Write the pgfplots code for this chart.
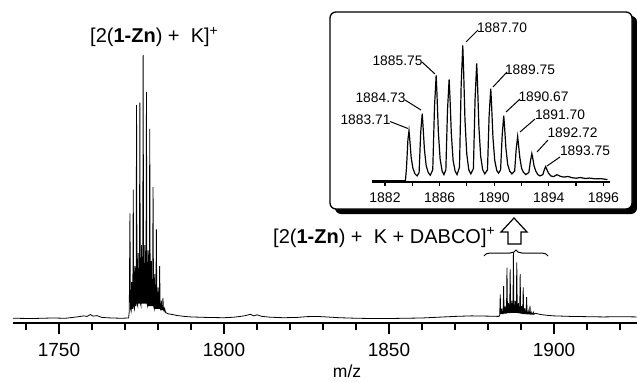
\documentclass[border=0pt]{standalone}
\usepackage{fontspec}
\setmainfont{Liberation Sans}
\usepackage{pgfplots}
\pgfplotsset{compat=1.18}
\usetikzlibrary{decorations.pathreplacing}

\pgfplotstableread{
x y
1736 0.3
1742 0.2
1748 0.4
1752 0.3
1754 0.6
1756 0.9
1757.5 1.2
1758.5 1.0
1759.5 1.7
1760.3 1.1
1761.5 1.3
1763 0.6
1766 0.4
1769 0.3
1771.1 0.4
1771.3 3
1771.5 40
1771.65 4
1771.85 3
1772.0 14
1772.15 4
1772.35 4
1772.5 49
1772.65 5
1772.85 4
1773.0 20
1773.15 5
1773.35 5
1773.5 81
1773.65 6
1773.85 5
1774.0 25
1774.15 6
1774.35 6
1774.5 82
1774.65 6
1774.85 5
1775.0 28
1775.15 6
1775.35 6
1775.5 100
1775.65 6
1775.85 6
1776.0 28
1776.15 6
1776.35 6
1776.5 86
1776.65 6
1776.85 5
1777.0 26
1777.15 5
1777.35 5
1777.5 72
1777.65 5
1777.85 5
1778.0 22
1778.15 5
1778.35 5
1778.5 50
1778.65 5
1778.85 4
1779.0 17
1779.15 4
1779.35 4
1779.5 34
1779.65 4
1779.85 4
1780.0 12
1780.15 4
1780.35 4
1780.5 20
1780.65 4
1780.85 3.5
1781.0 7
1781.15 3.5
1781.35 3.5
1781.5 8
1781.65 3.5
1781.85 3
1782.0 4
1782.3 2.5
1783 2
1784 1.8
1786 1.3
1788 1.0
1790 0.8
1795 0.6
1800 0.5
1803 0.7
1805 1.0
1806.5 1.3
1808 1.8
1809 1.2
1810 1.6
1811.5 1.0
1814 0.7
1818 0.5
1822 0.6
1825 0.9
1828 1.0
1831 0.8
1835 0.5
1840 0.3
1845 0.2
1850 0.2
1855 0.3
1860 0.4
1865 0.7
1870 1.0
1875 1.2
1880 1.1
1883.3 1.0
1883.55 1.5
1883.71 9.3
1883.85 2
1884.05 2
1884.2 4
1884.35 2
1884.58 2
1884.73 12.5
1884.87 2.2
1885.07 2.2
1885.22 5
1885.37 2.2
1885.6 2.2
1885.75 19.5
1885.9 2.4
1886.07 2.4
1886.22 6
1886.37 2.4
1886.57 2.4
1886.72 18.8
1886.87 2.5
1887.05 2.5
1887.2 7
1887.35 2.5
1887.55 2.5
1887.70 25
1887.85 2.5
1888.05 2.5
1888.2 7
1888.35 2.5
1888.57 2.5
1888.72 21.5
1888.87 2.4
1889.07 2.4
1889.22 6
1889.37 2.4
1889.6 2.3
1889.75 17
1889.9 2.2
1890.05 2.2
1890.2 5
1890.35 2.1
1890.52 2.1
1890.67 12
1890.82 2
1891.03 2
1891.18 4
1891.33 2
1891.55 2
1891.70 8.3
1891.85 1.9
1892.05 1.9
1892.2 3
1892.35 1.9
1892.57 1.9
1892.72 5
1892.87 1.8
1893.1 1.8
1893.25 2.5
1893.4 1.8
1893.6 1.8
1893.75 2.5
1893.9 1.8
1894.3 2.2
1895 2.0
1896 1.7
1898 1.4
1900 1.2
1905 1.0
1910 0.9
1915 0.8
1920 0.9
1925 0.8
}\mainspec

\pgfplotstableread{
x y
1881.05 0
1883.50 0
1883.58 10
1883.68 30
1883.76 37
1883.82 30
1883.92 17
1884.05 9
1884.20 5
1884.35 3.5
1884.50 6
1884.62 36
1884.73 49.6
1884.79 40
1884.89 23
1885.02 11
1885.17 6
1885.32 4
1885.50 8
1885.63 55
1885.75 77.8
1885.81 64
1885.91 36
1886.04 16
1886.19 7
1886.32 4.5
1886.46 8
1886.58 52
1886.70 74.8
1886.76 62
1886.86 35
1886.99 15
1887.14 7
1887.28 4.5
1887.46 10
1887.58 70
1887.70 100
1887.76 82
1887.86 45
1887.99 20
1888.14 8
1888.29 5
1888.48 9
1888.60 60
1888.72 86.7
1888.78 72
1888.88 40
1889.01 18
1889.16 8
1889.31 5
1889.51 8
1889.63 48
1889.75 68.1
1889.81 56
1889.91 32
1890.04 15
1890.19 7.5
1890.32 5.5
1890.47 8
1890.59 34
1890.70 48.1
1890.76 40
1890.86 24
1890.99 12
1891.14 7
1891.30 5
1891.50 7
1891.61 23
1891.72 32.6
1891.78 27
1891.88 17
1892.01 9
1892.16 6
1892.32 4.5
1892.54 6
1892.65 14
1892.76 20
1892.82 17
1892.92 11
1893.05 7
1893.20 4.5
1893.36 3.5
1893.57 4.5
1893.67 8
1893.77 10.4
1893.85 8.5
1893.98 5.5
1894.15 3.5
1894.35 3
1894.60 4.4
1894.85 3.2
1895.10 2.6
1895.40 3.1
1895.70 2.2
1896.00 1.8
1896.30 2.3
1896.70 1.6
1897.00 1.9
1897.40 1.3
1897.80 1.5
1898.30 0.8
}\insetspec

\begin{document}
\begin{tikzpicture}
\path[use as bounding box] (0,0) rectangle (637pt,381pt);

% main spectrum
\begin{axis}[
  at={(12.8pt,58pt)}, anchor=south west,
  scale only axis, width=623.7pt, height=270.6pt,
  xmin=1736, xmax=1925, ymin=-1.5, ymax=101,
  axis x line=bottom, axis y line=none,
  axis line style={line width=1.6pt,-},
  xtick={1750,1800,1850,1900},
  minor xtick={1740,1760,1770,1780,1790,1810,1820,1830,1840,1860,1870,1880,1890,1910,1920},
  tick align=outside, major tick length=11pt, minor tick length=7pt,
  every tick/.style={line width=1.4pt, black},
  /pgf/number format/assume math mode=true,
  /pgf/number format/1000 sep={},
  xticklabel style={font=\fontsize{19}{21}\selectfont, anchor=center, yshift=-16pt},
  xlabel={m/z},
  xlabel style={font=\fontsize{17.5}{20}\selectfont, at={(axis cs:1837.3,-1.5)}, anchor=center, yshift=-48pt},
  clip=false,
]
\addplot[black, line width=0.8pt] table {\mainspec};
\end{axis}

\begin{scope}[yshift=381pt, x=1pt, y=-1pt]
  % inset frame with shadow
  \fill[black, rounded corners=6pt] (335,16) rectangle (637,214);
  \filldraw[fill=white, draw=black, line width=1.3pt, rounded corners=6pt] (330,12) rectangle (632,209);
\end{scope}

% inset spectrum
\begin{axis}[
  at={(372pt,199pt)}, anchor=south west,
  scale only axis, width=238.2pt, height=136.6pt,
  xmin=1881.05, xmax=1898.5, ymin=-1, ymax=100,
  axis x line=bottom, axis y line=none,
  axis line style={line width=1.2pt,-},
  xtick={1882,1884,...,1898},
  xticklabels={1882,,1886,,1890,,1894,,1896},
  tick align=outside, major tick length=3.5pt,
  every tick/.style={line width=1.2pt, black},
  xticklabel style={font=\fontsize{14}{16}\selectfont, anchor=center, yshift=-12.5pt},
  clip=false,
]
\addplot[black, line width=1.2pt] table {\insetspec};
\end{axis}

\begin{scope}[yshift=381pt, x=1pt, y=-1pt]
  \tikzset{pl/.style={inner sep=0pt, font=\fontsize{13.8}{15}\selectfont}}
  \node[pl] at (365.5,120) {1883.71};
  \node[pl] at (380.5,98) {1884.73};
  \node[pl] at (397.5,61) {1885.75};
  \node[pl] at (502,28) {1887.70};
  \node[pl] at (530,70) {1889.75};
  \node[pl] at (543.5,97) {1890.67};
  \node[pl] at (560,115) {1891.70};
  \node[pl] at (572.5,133) {1892.72};
  \node[pl] at (585,151) {1893.75};
  \begin{scope}[line width=1pt]
  \draw (390,121.5)--(408,128.5);
  \draw (405,100)--(421,110);
  \draw (422,62)--(435,74);
  \draw (478,30)--(466,42);
  \draw (507,72)--(493,87);
  \draw (520,99)--(506,112);
  \draw (535,119)--(520,132);
  \draw (548,140)--(537,152);
  \draw (560,157)--(547,166);
  \end{scope}

  % species labels
  \node[anchor=base west, inner sep=0pt, font=\fontsize{20}{22}\selectfont] at (90,43)
    {[2(\textbf{1-Zn}) +\ \ K]\textsuperscript{+}};
  \node[anchor=base west, inner sep=0pt, font=\fontsize{20}{22}\selectfont] at (273,243)
    {[2(\textbf{1-Zn}) +\ \ K + DABCO]\textsuperscript{+}};

  % hollow arrow
  \draw[line width=1.2pt, fill=white] (508,244)--(508,232)--(501,232)--(514,218)--(527,232)--(521,232)--(521,244)--cycle;
  % brace
  \draw[line width=1pt, decorate, decoration={brace, amplitude=6pt}] (484,256) -- (548,256);
\end{scope}
\end{tikzpicture}
\end{document}
